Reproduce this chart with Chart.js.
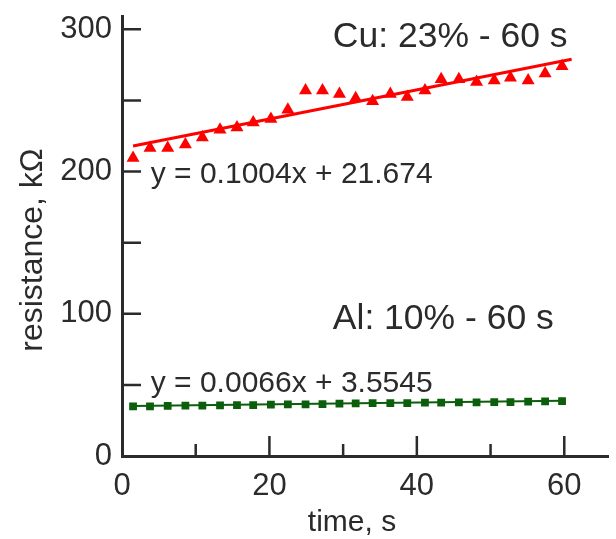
<!DOCTYPE html>
<html lang="en">
<head>
  <meta charset="UTF-8" />
  <title>Resistance vs time</title>
  <script src="https://cdn.jsdelivr.net/npm/chart.js"></script>
  <style>
    html, body { margin: 0; padding: 0; background: #fff; }
    #wrap { width: 616px; height: 539px; }
  </style>
</head>
<body>
  <div id="wrap"><canvas id="resChart" width="616" height="539"></canvas></div>
<script>
  // measurement times (s), same for both samples
  const times = [1.5, 3.8, 6.2, 8.6, 10.9, 13.3, 15.6, 17.8, 20.2, 22.5, 24.9, 27.2, 29.5,
                 31.7, 34.0, 36.4, 38.7, 41.1, 43.3, 45.7, 48.1, 50.5, 52.7, 55.1, 57.4, 59.7];
  // resistance, kOhm
  const cuValues = [209.5, 216.5, 216.5, 219, 224, 229.5, 231, 234.5, 237, 243.5, 257, 257, 254.5,
                    251.5, 249.5, 254.5, 252.5, 257, 265, 265, 263, 264, 266, 264, 269, 274];
  const alValues = [34.9, 34.9, 35.2, 35.4, 35.4, 35.6, 35.8, 35.8, 36.1, 36.3, 36.3, 36.5, 36.8,
                    37.0, 37.2, 37.2, 37.2, 37.5, 37.5, 37.7, 37.7, 37.9, 37.9, 38.2, 38.4, 38.6];
  // trend lines (end points)
  const cuFitX = [1.5, 61];
  const cuFitY = [218, 279];
  const alFitX = [1.5, 59.7];
  const alFitY = [35.2, 38.8];

  const xTicks = [0, 20, 40, 60];
  const yTicks = [0, 100, 200, 300];
  const xMinor = [10, 30, 50];
  const yMinor = [50, 150, 250];

  const FONT = '"Liberation Sans", Arial, sans-serif';
  const INK = '#2b2b2b';

  function pts(xs, ys) {
    return xs.map((x, i) => ({ x: x, y: ys[i] }));
  }

  // inward tick marks, axis titles and the fit labels
  const decorations = {
    id: 'decorations',
    afterDraw(chart) {
      const ctx = chart.ctx;
      const xs = chart.scales.x;
      const ys = chart.scales.y;
      const area = chart.chartArea;
      ctx.save();
      ctx.strokeStyle = INK;
      ctx.lineWidth = 2.5;
      ctx.beginPath();
      xTicks.forEach(v => {
        if (v === 0) return;
        const px = xs.getPixelForValue(v);
        ctx.moveTo(px, area.bottom);
        ctx.lineTo(px, area.bottom - 20);
      });
      xMinor.forEach(v => {
        const px = xs.getPixelForValue(v);
        ctx.moveTo(px, area.bottom);
        ctx.lineTo(px, area.bottom - 12);
      });
      yTicks.concat(yMinor).forEach(v => {
        if (v === 0) return;
        const py = ys.getPixelForValue(v);
        ctx.moveTo(area.left, py);
        ctx.lineTo(area.left + 19, py);
      });
      ctx.stroke();

      ctx.fillStyle = INK;
      ctx.textBaseline = 'alphabetic';
      ctx.textAlign = 'center';
      ctx.font = '30px ' + FONT;
      ctx.fillText('time, s', 352, 531);

      ctx.save();
      ctx.translate(42, 250);
      ctx.rotate(-Math.PI / 2);
      ctx.font = '32px ' + FONT;
      ctx.fillText('resistance, k\u03a9', 0, 0);
      ctx.restore();

      ctx.textAlign = 'left';
      ctx.font = '35.5px ' + FONT;
      ctx.fillText('Cu: 23% - 60 s', xs.getPixelForValue(28.6), ys.getPixelForValue(287.4));
      ctx.fillText('Al: 10% - 60 s', xs.getPixelForValue(28.6), ys.getPixelForValue(89.3));
      ctx.font = '30px ' + FONT;
      ctx.fillText('y = 0.1004x + 21.674', xs.getPixelForValue(3.9), ys.getPixelForValue(191.8));
      ctx.fillText('y = 0.0066x + 3.5545', xs.getPixelForValue(3.9), ys.getPixelForValue(45.2));
      ctx.restore();
    }
  };

  new Chart(document.getElementById('resChart'), {
    type: 'scatter',
    data: {
      datasets: [
        {
          data: pts(times, cuValues),
          pointStyle: 'triangle',
          pointRadius: 7.5,
          backgroundColor: '#ff0000',
          borderColor: '#ff0000',
          borderWidth: 0,
          order: 2
        },
        {
          data: pts(cuFitX, cuFitY),
          showLine: true,
          pointRadius: 0,
          borderColor: '#ff0000',
          borderWidth: 3,
          order: 1
        },
        {
          data: pts(times, alValues),
          pointStyle: 'rect',
          pointRadius: 5.5,
          backgroundColor: '#0b5e0b',
          borderColor: '#0b5e0b',
          borderWidth: 0,
          order: 2
        },
        {
          data: pts(alFitX, alFitY),
          showLine: true,
          pointRadius: 0,
          borderColor: '#0b5e0b',
          borderWidth: 2,
          order: 3
        }
      ]
    },
    options: {
      responsive: false,
      animation: false,
      layout: { padding: { top: 16, right: 0, left: 0, bottom: 0 } },
      plugins: {
        legend: { display: false },
        tooltip: { enabled: false }
      },
      scales: {
        x: {
          type: 'linear',
          min: 0,
          max: 66,
          grid: { display: false, drawTicks: false },
          border: { display: true, color: INK, width: 3 },
          ticks: {
            autoSkip: false,
            padding: 12,
            color: INK,
            font: { family: FONT, size: 31 }
          },
          afterBuildTicks(scale) { scale.ticks = xTicks.map(v => ({ value: v })); },
          afterFit(scale) {
            scale.height = 83;
            scale.paddingLeft = 0;
            scale.paddingRight = 0;
          }
        },
        y: {
          min: 0,
          max: 309.4,
          grid: { display: false, drawTicks: false },
          border: { display: true, color: INK, width: 3 },
          ticks: {
            autoSkip: false,
            padding: 10,
            color: INK,
            font: { family: FONT, size: 31 }
          },
          afterBuildTicks(scale) { scale.ticks = yTicks.map(v => ({ value: v })); },
          afterFit(scale) {
            scale.width = 122;
            scale.paddingTop = 0;
            scale.paddingBottom = 0;
          }
        }
      }
    },
    plugins: [decorations]
  });
</script>
</body>
</html>
